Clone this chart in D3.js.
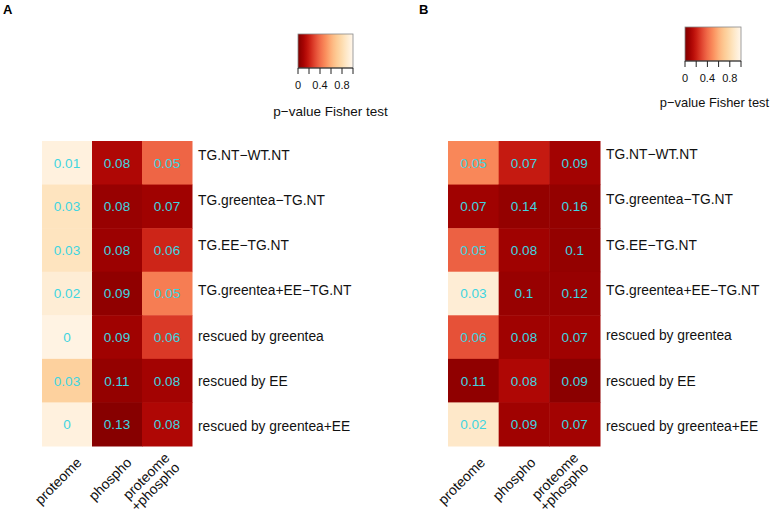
<!DOCTYPE html>
<html><head><meta charset="utf-8">
<script src="https://cdn.jsdelivr.net/npm/d3@7"></script>
<style>
html,body{margin:0;padding:0;background:#fff;}
svg{display:block;font-family:"Liberation Sans",Arial,Helvetica,sans-serif;}
</style></head>
<body>
<svg id="chart" width="770" height="516"></svg>
<script>
// ---- data ----
const rows = ["TG.NT\u2212WT.NT","TG.greentea\u2212TG.NT","TG.EE\u2212TG.NT","TG.greentea+EE\u2212TG.NT","rescued by greentea","rescued by EE","rescued by greentea+EE"];
const cols = ["proteome","phospho","proteome\n+phospho"];
// displayed numbers (rows x cols)
const labelsA = [["0.01","0.08","0.05"],["0.03","0.08","0.07"],["0.03","0.08","0.06"],["0.02","0.09","0.05"],["0","0.09","0.06"],["0.03","0.11","0.08"],["0","0.13","0.08"]];
const labelsB = [["0.05","0.07","0.09"],["0.07","0.14","0.16"],["0.05","0.08","0.1"],["0.03","0.1","0.12"],["0.06","0.08","0.07"],["0.11","0.08","0.09"],["0.02","0.09","0.07"]];
// Fisher test p-values (colour)
const pA = [[0.95,0.12,0.38],[0.85,0.06,0.08],[0.85,0.07,0.22],[0.92,0.04,0.45],[0.97,0.08,0.27],[0.74,0.05,0.09],[0.95,0.02,0.12]];
const pB = [[0.48,0.19,0.09],[0.08,0.05,0.05],[0.37,0.08,0.05],[0.92,0.06,0.06],[0.33,0.08,0.08],[0.04,0.12,0.03],[0.88,0.08,0.09]];
const legendTicks = [0,0.2,0.4,0.6,0.8,1];
const legendLabels = [0,0.4,0.8];

const svg = d3.select("#chart");
const color = p => d3.interpolateOrRd(1 - p);
const textCol = "#3fd5e0";

function panel(cfg){
  const g = svg.append("g");
  const x = d3.scaleBand().domain(cols).range(cfg.xr);
  const y = d3.scaleBand().domain(rows).range(cfg.yr);
  const yl = d3.scalePoint().domain(rows).range(cfg.ylr);
  const cells = [];
  rows.forEach((r,i)=>cols.forEach((c,j)=>cells.push({r,c,p:cfg.p[i][j],t:cfg.lab[i][j]})));
  g.selectAll("rect.cell").data(cells).join("rect").attr("class","cell")
    .attr("x",d=>x(d.c)).attr("y",d=>y(d.r))
    .attr("width",x.bandwidth()+0.5).attr("height",y.bandwidth()+0.5)
    .attr("fill",d=>color(d.p));
  g.selectAll("text.val").data(cells).join("text").attr("class","val")
    .attr("x",d=>x(d.c)+x.bandwidth()/2).attr("y",d=>y(d.r)+y.bandwidth()/2)
    .attr("text-anchor","middle").attr("dy","0.36em")
    .attr("font-size",13.5).attr("fill",textCol).text(d=>d.t);
  g.selectAll("text.row").data(rows).join("text").attr("class","row")
    .attr("x",cfg.xr[1]+6).attr("y",d=>yl(d)).attr("dy","0.36em")
    .attr("font-size",13.8).attr("fill","#111").text(d=>d);
  const cl = g.selectAll("g.col").data(cols).join("g").attr("class","col")
    .attr("transform",d=>{
      const multi = d.includes("\n");
      return `translate(${x(d)+x.bandwidth()/2+cfg.cdx+(multi?cfg.multiDx:0)},${cfg.yr[1]+cfg.cdy}) rotate(-45)`;
    });
  cl.each(function(d){
    const lines = d.split("\n");
    const t = d3.select(this).append("text").attr("text-anchor","end").attr("font-size",14).attr("fill","#111");
    lines.forEach((s,k)=>{
      t.append("tspan").attr("x",0).attr("y",(k-(lines.length-1)/2)*14).attr("dy","0.36em").text(s);
    });
  });
  // legend
  const lx = d3.scaleLinear().domain([0,1]).range(cfg.lx);
  const gid = "grad"+cfg.name;
  const grad = svg.append("defs").append("linearGradient").attr("id",gid);
  d3.range(0,1.0001,0.05).forEach(v=>grad.append("stop").attr("offset",v).attr("stop-color",color(v)));
  g.append("rect").attr("x",cfg.lx[0]).attr("y",cfg.ly[0]).attr("width",cfg.lx[1]-cfg.lx[0]).attr("height",cfg.ly[1]-cfg.ly[0])
    .attr("fill",`url(#${gid})`).attr("stroke","#888").attr("stroke-width",0.8);
  g.selectAll("line.tk").data(legendTicks).join("line").attr("class","tk")
    .attr("x1",d=>lx(d)).attr("x2",d=>lx(d)).attr("y1",cfg.ly[1]).attr("y2",cfg.ly[1]+6)
    .attr("stroke","#222").attr("stroke-width",1);
  g.append("line").attr("x1",cfg.lx[0]).attr("x2",cfg.lx[1]).attr("y1",cfg.ly[1]).attr("y2",cfg.ly[1]).attr("stroke","#222");
  g.selectAll("text.tl").data(legendLabels).join("text").attr("class","tl")
    .attr("x",d=>lx(d)).attr("y",cfg.tly).attr("text-anchor","middle").attr("font-size",11).attr("fill","#111").text(d=>d);
  g.append("text").attr("x",cfg.titleX).attr("y",cfg.titleY).attr("text-anchor","middle")
    .attr("font-size",cfg.titleSize).attr("fill","#111").text("p\u2212value Fisher test");
  g.append("text").attr("x",cfg.tagX).attr("y",14).attr("font-size",13).attr("font-weight","bold").text(cfg.name);
}

panel({name:"A",p:pA,lab:labelsA,xr:[42,192],yr:[141,446],ylr:[155,426],cdx:12,cdy:14,multiDx:-7,
  lx:[298,353],ly:[34,68],tly:89,titleX:330.5,titleY:116,titleSize:13.5,tagX:3});
panel({name:"B",p:pB,lab:labelsB,xr:[448,600],yr:[141,446],ylr:[154,426],cdx:9,cdy:14,multiDx:-3,
  lx:[685,741],ly:[27,61],tly:82,titleX:714.5,titleY:107,titleSize:12.9,tagX:419});
</script>
</body></html>
